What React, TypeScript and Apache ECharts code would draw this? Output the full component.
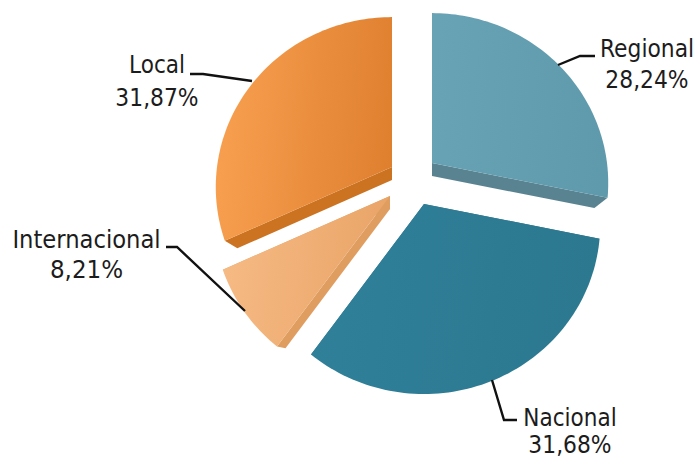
import React, { useEffect, useRef } from "react";
import * as echarts from "echarts";

const categories = ["Regional", "Nacional", "Internacional", "Local"];
const shares = [28.24, 31.68, 8.21, 31.87];

// Layout of the exploded slices (pixels)
const apexes = [[432, 163], [424, 204], [390, 196], [392, 167]];
const faceStops = [
  ["#68A2B5", "#5E99AC"],
  ["#30809A", "#2B788F"],
  ["#F6BA84", "#E9A467"],
  ["#F8A050", "#DF802F"],
];
const sideColors = ["#5A8392", "#2A6C82", "#DF9D60", "#CC7322"];
const leaders = [
  [[558, 65], [580, 56], [595, 56]],
  [[492, 380], [504, 420], [517, 420]],
  [[245, 311], [177, 247], [166, 247]],
  [[252, 81], [203, 74], [190, 74]],
];
const labelBoxes = [
  { x: 647, y1: 49, y2: 80 },
  { x: 570, y1: 418, y2: 445 },
  { x: 86.5, y1: 240, y2: 270 },
  { x: 157, y1: 65, y2: 98 },
];
const nameStretch = [0.91, 0.9, 0.945, 0.9];
const valueStretch = [0.91, 0.91, 0.96, 0.91];

const RX = 175;
const RY = 167.6;
const K = 0.118;
const DEPTH = 13;
const SHRINK = 0.075;

// Perspective projection of a point on the unit circle, relative to the apex
function project(theta: number, r = 1): [number, number] {
  const u = Math.sin(theta) * r;
  const v = -Math.cos(theta) * r;
  const w = 1 - K * v;
  return [(RX * u) / w, (RY * v) / w];
}

function lower(p: [number, number]): [number, number] {
  return [p[0] - SHRINK * p[0], p[1] + DEPTH - SHRINK * p[1]];
}

function renderItem(params: any, api: any) {
  const i = params.dataIndex;
  const value = api.value(0);
  const before = shares.slice(0, i).reduce((a, b) => a + b, 0);
  const total = shares.reduce((a, b) => a + b, 0);
  const a0 = (before / total) * Math.PI * 2;
  const a1 = ((before + value) / total) * Math.PI * 2;
  const [ax, ay] = apexes[i];
  const at = (p: [number, number]) => [ax + p[0], ay + p[1]];

  const rim: [number, number][] = [];
  const steps = Math.max(12, Math.round((a1 - a0) * 40));
  for (let s = 0; s <= steps; s++) rim.push(project(a0 + ((a1 - a0) * s) / steps));
  const start = rim[0];
  const end = rim[rim.length - 1];
  const origin: [number, number] = [0, 0];

  const sideStart = [origin, start, lower(start), lower(origin)].map(at);
  const sideEnd = [origin, end, lower(end), lower(origin)].map(at);
  const face = [origin, ...rim].map(at);

  const children: any[] = [
    { type: "polygon", shape: { points: sideStart }, style: { fill: sideColors[i] } },
    { type: "polygon", shape: { points: sideEnd }, style: { fill: sideColors[i] } },
    {
      type: "polygon",
      shape: { points: face },
      style: {
        fill: new echarts.graphic.LinearGradient(0, 0.4, 1, 0.5, [
          { offset: 0, color: faceStops[i][0] },
          { offset: 1, color: faceStops[i][1] },
        ]),
      },
    },
    {
      type: "polyline",
      shape: { points: leaders[i] },
      style: { stroke: "#111111", lineWidth: 2.4, fill: "none" },
    },
    {
      type: "text",
      x: labelBoxes[i].x,
      y: labelBoxes[i].y1,
      scaleX: nameStretch[i],
      style: {
        text: categories[i],
        fontFamily: "DejaVu Sans",
        fontSize: 24,
        fill: "#1c1c1c",
        align: "center",
        verticalAlign: "middle",
      },
    },
    {
      type: "text",
      x: labelBoxes[i].x,
      y: labelBoxes[i].y2,
      scaleX: valueStretch[i],
      style: {
        text: value.toFixed(2).replace(".", ",") + "%",
        fontFamily: "DejaVu Sans",
        fontSize: 24,
        fill: "#1c1c1c",
        align: "center",
        verticalAlign: "middle",
      },
    },
  ];
  return { type: "group", children };
}

export default function App() {
  const ref = useRef<HTMLDivElement>(null);
  useEffect(() => {
    document.body.style.margin = "0";
    const chart = echarts.init(ref.current!, undefined, { renderer: "svg" });
    chart.setOption({
      animation: false,
      backgroundColor: "#ffffff",
      series: [
        {
          type: "custom",
          coordinateSystem: "none",
          silent: true,
          renderItem,
          data: shares.map((v, i) => ({ name: categories[i], value: [v] })),
        },
      ],
    });
    return () => chart.dispose();
  }, []);
  return <div ref={ref} style={{ width: 700, height: 459 }} />;
}
